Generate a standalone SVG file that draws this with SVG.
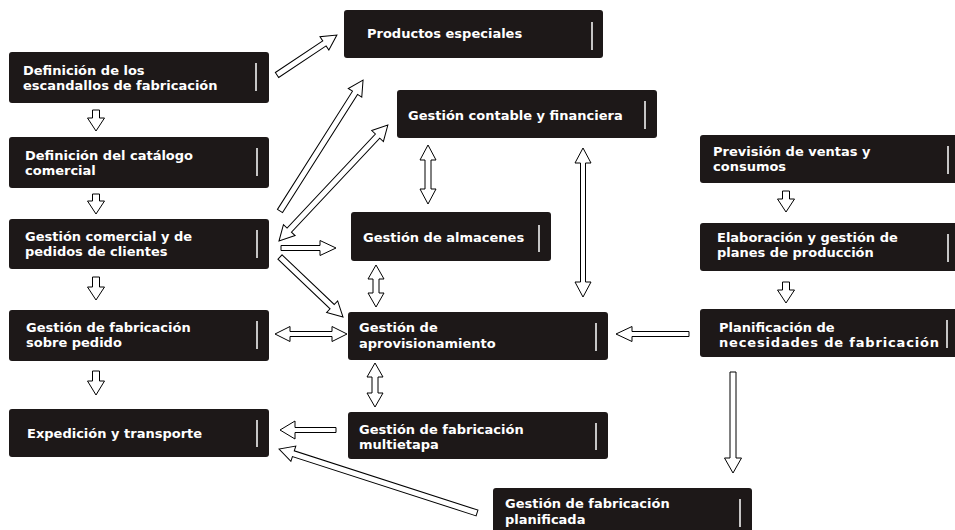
<svg xmlns="http://www.w3.org/2000/svg" width="955" height="530" viewBox="0 0 955 530">
<style>
.box{fill:#1d1818}
.bar{stroke:#ffffff;stroke-width:1.5}
.t{fill:#ffffff;font-family:"DejaVu Sans",Verdana,sans-serif;font-weight:bold;font-size:13px}
.ar{fill:#ffffff;stroke:#000000;stroke-width:1;stroke-linejoin:miter}
</style>
<rect width="955" height="530" fill="#ffffff"/>
<g id="n1"><rect class="box" x="9" y="52" width="260" height="51" rx="3"/><line class="bar" x1="256" y1="63" x2="256" y2="91"/><text class="t" x="23" y="74.5">Definición de los</text><text class="t" x="23" y="89.5">escandallos de fabricación</text></g>
<g id="n2"><rect class="box" x="9" y="137" width="260" height="51" rx="3"/><line class="bar" x1="257" y1="148" x2="257" y2="176"/><text class="t" x="25" y="160">Definición del catálogo</text><text class="t" x="25" y="175">comercial</text></g>
<g id="n3"><rect class="box" x="9" y="219" width="260" height="50" rx="3"/><line class="bar" x1="257" y1="230" x2="257" y2="258"/><text class="t" x="25" y="241">Gestión comercial y de</text><text class="t" x="25" y="256">pedidos de clientes</text></g>
<g id="n4"><rect class="box" x="9" y="310" width="260" height="51" rx="3"/><line class="bar" x1="257" y1="321" x2="257" y2="349"/><text class="t" x="26" y="332">Gestión de fabricación</text><text class="t" x="26" y="347">sobre pedido</text></g>
<g id="n5"><rect class="box" x="9" y="409" width="260" height="48" rx="3"/><line class="bar" x1="257" y1="420" x2="257" y2="447"/><text class="t" x="27" y="438">Expedición y transporte</text></g>
<g id="n6"><rect class="box" x="344" y="10" width="259" height="48" rx="3"/><line class="bar" x1="592" y1="22" x2="592" y2="50"/><text class="t" x="367" y="38">Productos especiales</text></g>
<g id="n7"><rect class="box" x="397" y="90" width="260" height="48" rx="3"/><line class="bar" x1="645" y1="101" x2="645" y2="129"/><text class="t" x="408" y="120">Gestión contable y financiera</text></g>
<g id="n8"><rect class="box" x="351" y="212" width="200" height="49" rx="3"/><line class="bar" x1="539" y1="225" x2="539" y2="252"/><text class="t" x="363" y="242">Gestión de almacenes</text></g>
<g id="n9"><rect class="box" x="348" y="312" width="260" height="48" rx="3"/><line class="bar" x1="596" y1="323" x2="596" y2="351"/><text class="t" x="359" y="332">Gestión de</text><text class="t" x="359" y="348">aprovisionamiento</text></g>
<g id="n10"><rect class="box" x="348" y="412" width="260" height="47" rx="3"/><line class="bar" x1="596" y1="423" x2="596" y2="450"/><text class="t" x="359" y="434">Gestión de fabricación</text><text class="t" x="359" y="449">multietapa</text></g>
<g id="n11"><rect class="box" x="493" y="488" width="259" height="50" rx="3"/><line class="bar" x1="740" y1="499" x2="740" y2="527"/><text class="t" x="505" y="508">Gestión de fabricación</text><text class="t" x="505" y="524">planificada</text></g>
<g id="n12"><rect class="box" x="700" y="135" width="262" height="48" rx="3"/><line class="bar" x1="948" y1="146" x2="948" y2="174"/><text class="t" x="713" y="156">Previsión de ventas y</text><text class="t" x="713" y="171">consumos</text></g>
<g id="n13"><rect class="box" x="700" y="223" width="262" height="48" rx="3"/><line class="bar" x1="948" y1="234" x2="948" y2="262"/><text class="t" x="717" y="242">Elaboración y gestión de</text><text class="t" x="717" y="257">planes de producción</text></g>
<g id="n14"><rect class="box" x="700" y="309" width="262" height="48" rx="3"/><line class="bar" x1="947" y1="320" x2="947" y2="348"/><text class="t" x="719" y="332">Planificación de</text><text class="t" x="719" y="347" textLength="220" lengthAdjust="spacing">necesidades de fabricación</text></g>
<g id="connectors">
<polygon class="ar" transform="translate(96,110) rotate(90)" points="0,-3.5 8,-3.5 8,-8.5 21,0 8,8.5 8,3.5 0,3.5"/>
<polygon class="ar" transform="translate(96,194) rotate(90)" points="0,-3.5 7,-3.5 7,-8.5 20,0 7,8.5 7,3.5 0,3.5"/>
<polygon class="ar" transform="translate(96,277) rotate(90)" points="0,-3.5 10,-3.5 10,-8.5 23,0 10,8.5 10,3.5 0,3.5"/>
<polygon class="ar" transform="translate(96,371) rotate(90)" points="0,-3.5 10,-3.5 10,-8.5 24,0 10,8.5 10,3.5 0,3.5"/>
<polygon class="ar" transform="translate(786,191) rotate(90)" points="0,-3.5 8,-3.5 8,-8.5 21,0 8,8.5 8,3.5 0,3.5"/>
<polygon class="ar" transform="translate(786,282) rotate(90)" points="0,-3.5 8,-3.5 8,-8.5 21,0 8,8.5 8,3.5 0,3.5"/>
<polygon class="ar" transform="translate(277,75) rotate(-33.7)" points="0,-3 57,-3 57,-8 72,0 57,8 57,3 0,3"/>
<polygon class="ar" transform="translate(280,211) rotate(-57.6)" points="0,-3 140,-3 140,-8 155,0 140,8 140,3 0,3"/>
<polygon class="ar" transform="translate(279,241) rotate(-46.8)" points="0,0 15,-8 15,-3 144,-3 144,-8 159,0 144,8 144,3 15,3 15,8"/>
<polygon class="ar" transform="translate(280,257) rotate(43.6)" points="0,-3 72,-3 72,-8 87,0 72,8 72,3 0,3"/>
<polygon class="ar" transform="translate(477,513) rotate(-162.1)" points="0,-3 193,-3 193,-8 208,0 193,8 193,3 0,3"/>
<polygon class="ar" transform="translate(281,248)" points="0,-2.5 39,-2.5 39,-7.5 55,0 39,7.5 39,2.5 0,2.5"/>
<polygon class="ar" transform="translate(275,334)" points="0,0 15,-7.5 15,-2.5 57,-2.5 57,-7.5 72,0 57,7.5 57,2.5 15,2.5 15,7.5"/>
<polygon class="ar" transform="translate(689,334) rotate(180)" points="0,-2.5 57,-2.5 57,-7.5 73,0 57,7.5 57,2.5 0,2.5"/>
<polygon class="ar" transform="translate(336,430) rotate(180)" points="0,-2.5 41,-2.5 41,-9 56,0 41,9 41,2.5 0,2.5"/>
<polygon class="ar" transform="translate(428,145) rotate(90)" points="0,0 15,-8 15,-3 44,-3 44,-8 59,0 44,8 44,3 15,3 15,8"/>
<polygon class="ar" transform="translate(583,148) rotate(90)" points="0,0 15,-8 15,-2.5 134,-2.5 134,-8 149,0 134,8 134,2.5 15,2.5 15,8"/>
<polygon class="ar" transform="translate(376,265) rotate(90)" points="0,0 14,-8 14,-3 28,-3 28,-8 42,0 28,8 28,3 14,3 14,8"/>
<polygon class="ar" transform="translate(375,363) rotate(90)" points="0,0 14,-8 14,-3 30,-3 30,-8 44,0 30,8 30,3 14,3 14,8"/>
<polygon class="ar" transform="translate(733,372) rotate(90)" points="0,-3 86,-3 86,-8.5 101,0 86,8.5 86,3 0,3"/>
</g>
</svg>
